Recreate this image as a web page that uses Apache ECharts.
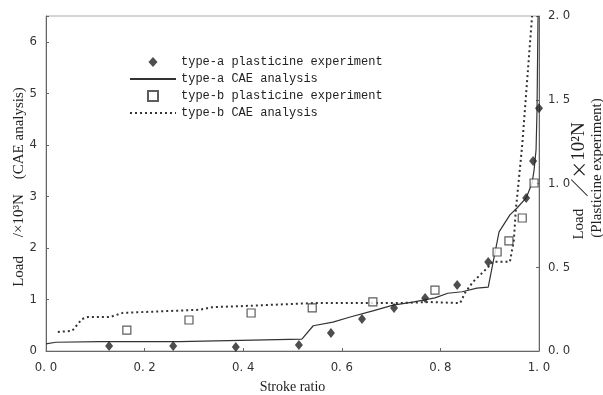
<!DOCTYPE html>
<html><head><meta charset="utf-8">
<script src="https://cdn.jsdelivr.net/npm/echarts@6/dist/echarts.min.js"></script>
<style>html,body{margin:0;padding:0;background:#fff}#c{width:603px;height:395px}</style>
</head><body><div id="c"></div>
<script>
// Stroke ratio ticks
const xTicks = [0, 0.2, 0.4, 0.6, 0.8, 1.0];
// type-a CAE analysis (left axis, CAE units)
const aCaeX = [0, 0.02, 0.11, 0.27, 0.519, 0.542, 0.582, 0.617, 0.663, 0.704, 0.744, 0.789, 0.815, 0.844, 0.874, 0.897, 0.919, 0.941, 0.955, 0.974, 0.986, 0.99, 0.994, 0.996, 0.998];
const aCaeY = [0.14, 0.17, 0.18, 0.18, 0.23, 0.49, 0.56, 0.66, 0.78, 0.89, 0.95, 1.03, 1.12, 1.15, 1.22, 1.24, 2.31, 2.64, 2.77, 2.97, 3.26, 3.51, 3.9, 4.68, 6.5];
// type-b CAE analysis (left axis)
const bCaeX = [0.024, 0.053, 0.073, 0.085, 0.13, 0.156, 0.312, 0.337, 0.394, 0.542, 0.712, 0.779, 0.84, 0.85, 0.866, 0.895, 0.907, 0.941, 0.949, 0.953, 0.957, 0.966, 0.978, 0.986];
const bCaeY = [0.37, 0.39, 0.62, 0.66, 0.66, 0.74, 0.80, 0.85, 0.87, 0.93, 0.93, 0.95, 0.93, 1.13, 1.34, 1.61, 1.73, 1.73, 2.15, 2.74, 3.12, 4.0, 5.51, 6.5];
// type-a plasticine experiment (right axis, x10^2 N)
const aExpX = [0.128, 0.258, 0.385, 0.513, 0.578, 0.641, 0.706, 0.769, 0.834, 0.897, 0.974, 0.988, 1.0];
const aExpY = [0.03, 0.03, 0.024, 0.036, 0.107, 0.191, 0.257, 0.316, 0.394, 0.531, 0.913, 1.134, 1.45];
// type-b plasticine experiment (right axis)
const bExpX = [0.164, 0.290, 0.416, 0.540, 0.663, 0.789, 0.915, 0.939, 0.966, 0.990];
const bExpY = [0.125, 0.185, 0.227, 0.257, 0.293, 0.364, 0.591, 0.657, 0.794, 1.003];

const names = ['type-a plasticine experiment', 'type-a CAE analysis', 'type-b plasticine experiment', 'type-b CAE analysis'];
const xName = 'Stroke ratio';
const leftName = 'Load     /×10³N    (CAE analysis)';
const rightName1a = 'Load';
const rightName1b = '／×';
const rightName1c = '10²N';
const rightName2 = '(Plasticine experiment)';

const zip = (xs, ys) => xs.map((x, i) => [x, ys[i]]);
const tickFont = "'Liberation Sans Narrow','DejaVu Sans Condensed','Liberation Sans',sans-serif";
const serif = "'Liberation Serif','DejaVu Serif','Noto Sans CJK JP',serif";
const cjk = "'Noto Sans CJK JP',sans-serif";
const fmt1 = v => v.toFixed(1).replace('.', '. ');
const ink = '#222';

const chart = echarts.init(document.getElementById('c'), null, {renderer: 'canvas'});
chart.setOption({
  animation: false,
  backgroundColor: '#fff',
  grid: {left: 46, right: 64, top: 16, bottom: 44, show: true, borderColor: '#aaa', borderWidth: 1,
         containLabel: false, outerBoundsMode: 'none'},
  legend: {
    orient: 'vertical', left: 124, top: 51,
    itemWidth: 46, itemHeight: 10, itemGap: 5,
    symbolKeepAspect: true,
    data: [
      {name: names[0], icon: 'path://M5,0L10,5.5L5,11L0,5.5Z'},
      {name: names[1], itemStyle: {opacity: 0}},
      {name: names[2], icon: 'path://M0,0H10V10H0Z'},
      {name: names[3], itemStyle: {opacity: 0}}
    ],
    textStyle: {fontFamily: "'Liberation Mono','DejaVu Sans Mono',monospace", fontSize: 12, color: ink}
  },
  xAxis: {
    type: 'value', min: 0, max: 1, interval: 0.2,
    name: xName, nameLocation: 'middle', nameGap: 29,
    nameTextStyle: {fontFamily: serif, fontSize: 14, color: ink},
    axisLine: {lineStyle: {color: '#666'}},
    axisTick: {inside: true, length: 3, lineStyle: {color: '#666'}},
    axisLabel: {formatter: fmt1, fontFamily: tickFont, fontSize: 13, color: '#333', margin: 10},
    splitLine: {show: false}
  },
  yAxis: [{
    type: 'value', min: 0, max: 6.5, interval: 1,
    axisLine: {show: true, lineStyle: {color: '#666'}},
    axisTick: {inside: true, length: 3, lineStyle: {color: '#666'}},
    axisLabel: {formatter: v => Number.isInteger(v) ? String(v) : '', fontFamily: tickFont, fontSize: 13, color: '#333', margin: 9},
    splitLine: {show: false}
  }, {
    type: 'value', min: 0, max: 2, interval: 0.5, position: 'right',
    axisLine: {show: true, lineStyle: {color: '#666'}},
    axisTick: {inside: true, length: 3, lineStyle: {color: '#666'}},
    axisLabel: {formatter: fmt1, fontFamily: tickFont, fontSize: 13, color: '#333', margin: 9},
    splitLine: {show: false}
  }],
  graphic: [
    {type: 'text', x: 19, y: 187, rotation: Math.PI / 2,
     style: {text: leftName, font: "15px " + serif, fill: ink, align: 'center', verticalAlign: 'middle'}},
    {type: 'text', x: 579, y: 181, rotation: Math.PI / 2,
     style: {text: '{a|' + rightName1a + '}{s| }{b|' + rightName1b + '}{c|' + rightName1c + '}', fill: ink, align: 'center', verticalAlign: 'middle',
       rich: {a: {fontFamily: serif, fontSize: 15, fill: ink},
              s: {fontFamily: serif, fontSize: 15, width: 12},
              b: {fontFamily: cjk, fontSize: 18, fill: ink},
              c: {fontFamily: serif, fontSize: 19, fill: ink}}}},
    {type: 'text', x: 597, y: 168, rotation: Math.PI / 2,
     style: {text: rightName2, font: "15px " + serif, fill: ink, align: 'center', verticalAlign: 'middle'}}
  ],
  series: [
    {name: names[0], type: 'scatter', yAxisIndex: 1, symbol: 'diamond', symbolSize: [8, 10],
     itemStyle: {color: ink}, data: zip(aExpX, aExpY), z: 5},
    {name: names[1], type: 'line', yAxisIndex: 0, symbol: 'none', showSymbol: false,
     lineStyle: {color: '#333', width: 1.2, type: 'solid'}, itemStyle: {color: '#333'}, data: zip(aCaeX, aCaeY)},
    {name: names[2], type: 'scatter', yAxisIndex: 1, symbol: 'rect', symbolSize: 8,
     itemStyle: {color: '#fff', borderColor: '#333', borderWidth: 1.2}, data: zip(bExpX, bExpY), z: 5},
    {name: names[3], type: 'line', yAxisIndex: 0, symbol: 'none', showSymbol: false,
     lineStyle: {color: '#333', width: 2, type: [2, 3]}, itemStyle: {color: '#333'}, data: zip(bCaeX, bCaeY)}
  ]
});
</script>
</body></html>
